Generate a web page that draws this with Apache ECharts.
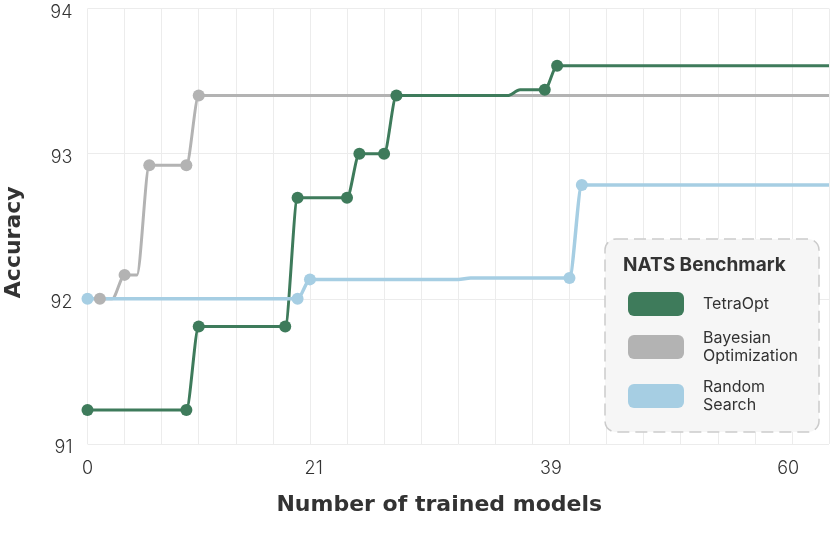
<!DOCTYPE html>
<html>
<head>
<meta charset="utf-8">
<style>
  html, body { margin: 0; padding: 0; background: #fff; }
  #chart { width: 830px; height: 538px; }
</style>
<script src="https://cdn.jsdelivr.net/npm/echarts@6.0.0/dist/echarts.min.js"></script>
</head>
<body>
<div id="chart"></div>
<script>
// x ticks shown under the axis (label text and where it sits on the x scale)
const xTickLabels = ['0', '21', '39', '60']
const xTickAt = [0, 18.3, 37.5, 56.7]
const yTicks = [91, 92, 93, 94]

const seriesNames = ['TetraOpt', 'Bayesian Optimization', 'Random Search']

// TetraOpt
const tetraX = [0, 8, 9, 16, 17, 21, 22, 24, 25, 34, 35, 37, 38, 60]
const tetraY = [91.235, 91.235, 91.81, 91.81, 92.697, 92.697, 93.0, 93.0, 93.4, 93.4, 93.44, 93.44, 93.605, 93.605]
const tetraMarked = [0, 8, 9, 16, 17, 21, 22, 24, 25, 37, 38]

// Bayesian Optimization
const bayesX = [1, 2, 3, 4, 5, 8, 9, 60]
const bayesY = [92.0, 92.0, 92.165, 92.165, 92.92, 92.92, 93.4, 93.4]
const bayesMarked = [1, 3, 5, 8, 9]

// Random Search
const randomX = [0, 17, 18, 30, 31, 39, 40, 60]
const randomY = [92.0, 92.0, 92.134, 92.134, 92.144, 92.144, 92.784, 92.784]
const randomMarked = [0, 17, 18, 39, 40]

const colors = {
  'TetraOpt': '#3e7b5b',
  'Bayesian Optimization': '#b3b3b3',
  'Random Search': '#a6cee3'
}

function buildData(xs, ys, marked) {
  return xs.map((x, i) => {
    const item = { value: [x, ys[i]] }
    if (marked.indexOf(x) < 0) item.symbol = 'none'
    return item
  })
}

function lineSeries(name, data, width) {
  return {
    name: name,
    type: 'line',
    data: data,
    smooth: 0.3,
    smoothMonotone: 'x',
    symbol: 'circle',
    symbolSize: 12,
    showSymbol: true,
    showAllSymbol: true,
    color: colors[name],
    lineStyle: { width: width, color: colors[name] },
    itemStyle: { color: colors[name] },
    emphasis: { disabled: true },
    animation: false
  }
}

const font = 'Inter, "Noto Sans", sans-serif'
const titleFont = '"DejaVu Sans", Inter, sans-serif'
const axisTitle = { fontSize: 22, fontWeight: 'bold', color: '#333', fontFamily: titleFont }
const chart = echarts.init(document.getElementById('chart'), null, { renderer: 'canvas' })

chart.setOption({
  animation: false,
  textStyle: { fontFamily: font },
  grid: { left: 87.5, right: 1, top: 8.5, bottom: 94, outerBoundsMode: 'none', containLabel: false },
  xAxis: {
    type: 'value',
    min: 0,
    max: 60,
    interval: 3,
    name: '{t|Number of trained models}',
    nameLocation: 'middle',
    nameGap: 50,
    nameTextStyle: {
      rich: { t: Object.assign({ padding: [0, 38, 0, 0] }, axisTitle) }
    },
    axisLine: { show: false },
    axisTick: { show: false },
    axisLabel: {
      customValues: xTickAt,
      formatter: (v) => {
        const i = xTickAt.findIndex(t => Math.abs(t - v) < 1e-6)
        return i >= 0 ? xTickLabels[i] : ''
      },
      fontSize: 18,
      fontWeight: 300,
      color: '#333',
      margin: 16,
      fontFamily: font
    },
    splitLine: { show: true, lineStyle: { color: '#ececec', width: 1 } }
  },
  yAxis: {
    type: 'value',
    min: yTicks[0],
    max: yTicks[yTicks.length - 1],
    interval: 1,
    name: '{t|Accuracy}',
    nameLocation: 'middle',
    nameGap: 62,
    nameRotate: 90,
    nameTextStyle: {
      rich: { t: Object.assign({ padding: [0, 32, 0, 0] }, axisTitle) }
    },
    axisLine: { show: false },
    axisTick: { show: false },
    axisLabel: {
      formatter: '{a|{value}}',
      rich: { a: { fontSize: 18, fontWeight: 300, color: '#333', padding: [8, 0, 0, 0], fontFamily: font } },
      margin: 15
    },
    splitLine: { show: true, lineStyle: { color: '#ececec', width: 1 } }
  },
  graphic: [
    {
      type: 'rect',
      z: 3,
      shape: { x: 605, y: 239, width: 214, height: 193, r: 11 },
      style: { fill: '#f6f6f6', stroke: '#cbcbcb', lineWidth: 1.5, lineDash: [12, 6] }
    }
  ],
  title: {
    text: 'NATS Benchmark',
    left: 623,
    top: 256,
    padding: 0,
    textStyle: { fontSize: 19, fontWeight: 'bold', color: '#333', fontFamily: font }
  },
  legend: {
    orient: 'vertical',
    left: 628,
    top: 292,
    padding: 0,
    itemGap: 13,
    itemWidth: 56,
    itemHeight: 24,
    icon: 'roundRect',
    selectedMode: false,
    data: seriesNames,
    formatter: (name) => name.replace(' ', '\n'),
    textStyle: {
      fontSize: 16,
      lineHeight: 18,
      color: '#333',
      padding: [0, 0, 0, 14],
      fontFamily: font
    }
  },
  series: [
    lineSeries('Bayesian Optimization', buildData(bayesX, bayesY, bayesMarked), 3),
    lineSeries('TetraOpt', buildData(tetraX, tetraY, tetraMarked), 3),
    lineSeries('Random Search', buildData(randomX, randomY, randomMarked), 3.5)
  ]
})
</script>
</body>
</html>
